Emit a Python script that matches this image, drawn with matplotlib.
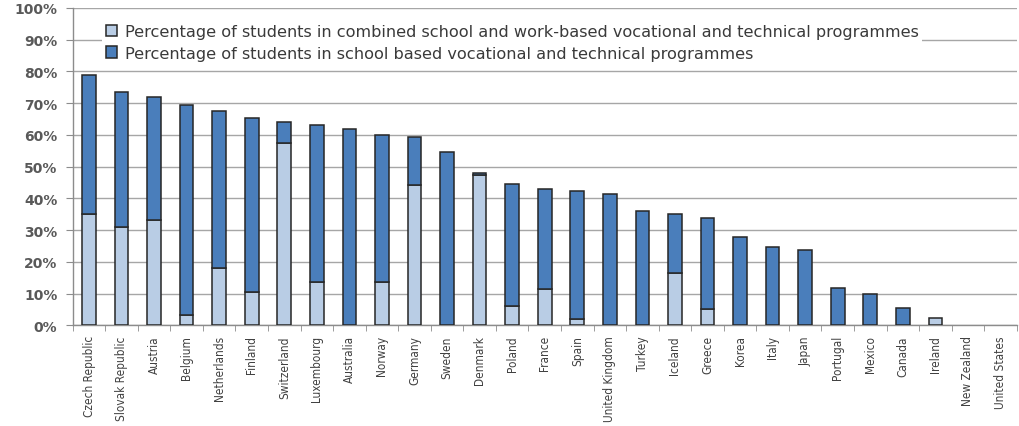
import matplotlib
matplotlib.use("Agg")
import matplotlib.pyplot as plt
import numpy as np
from matplotlib.ticker import FuncFormatter, MultipleLocator, FixedLocator
from matplotlib import font_manager as fm

countries = ["Czech Republic", "Slovak Republic", "Austria", "Belgium", "Netherlands",
             "Finland", "Switzerland", "Luxembourg", "Australia", "Norway", "Germany",
             "Sweden", "Denmark", "Poland", "France", "Spain", "United Kingdom", "Turkey",
             "Iceland", "Greece", "Korea", "Italy", "Japan", "Portugal", "Mexico",
             "Canada", "Ireland", "New Zealand", "United States"]
totals = [79, 73.6, 72, 69.5, 67.5, 65.5, 64, 63, 62, 60, 59.5, 54.5, 48, 44.5, 43,
          42.5, 41.5, 36.2, 35.2, 33.8, 28, 24.8, 23.8, 11.7, 9.8, 5.6, 2.5, 0, 0]
combined = [35, 31, 33.2, 3.2, 18.2, 10.6, 57.6, 13.6, 0, 13.6, 44.2, 0, 47.4, 6.2, 11.6,
            2.0, 0, 0, 16.5, 5.2, 0, 0, 0, 0, 0, 0, 2.5, 0, 0]
school = [t - c for t, c in zip(totals, combined)]

label_combined = "Percentage of students in combined school and work-based vocational and technical programmes"
label_school = "Percentage of students in school based vocational and technical programmes"

light = "#b9cde5"
dark = "#4a7ebb"
edge = "#262626"
gray = "#595959"

cond = None
for f in fm.fontManager.ttflist:
    fn = f.fname.replace("-", "")
    if "Condensed" in fn and "DejaVuSans" in fn and "Bold" not in fn and "Oblique" not in fn and "Mono" not in fn:
        cond = f.fname
        break
if cond:
    xfont = fm.FontProperties(fname=cond, size=8.5)
else:
    xfont = fm.FontProperties(family=["Liberation Sans", "DejaVu Sans"], size=8.5)

fig = plt.figure(figsize=(10.2, 4.27), dpi=100)
ax = fig.add_axes([0.0713, 0.2354, 0.9255, 0.7436])

x = np.arange(len(countries))
w = 0.42
lw_c = [1.1 if v > 0 else 0 for v in combined]
lw_s = [1.1 if v > 0 else 0 for v in school]
ax.bar(x, combined, w, color=light, edgecolor=edge, linewidth=lw_c, label=label_combined, zorder=3)
ax.bar(x, school, w, bottom=combined, color=dark, edgecolor=edge, linewidth=lw_s,
       label=label_school, zorder=3)

ax.set_xlim(-0.5, len(countries) - 0.5)
ax.set_ylim(0, 100)
ax.yaxis.set_major_locator(MultipleLocator(10))
ax.yaxis.set_major_formatter(FuncFormatter(lambda v, p: f"{int(round(v))}%"))
ax.grid(axis="y", color="#a6a6a6", linewidth=1.0, zorder=0)
ax.set_axisbelow(True)

for s in ["top", "right"]:
    ax.spines[s].set_visible(False)
for s in ["left", "bottom"]:
    ax.spines[s].set_color("#8c8c8c")
    ax.spines[s].set_linewidth(1.0)

ax.set_xticks(x)
ax.set_xticklabels(countries, rotation=90, color="#404040")
for t in ax.get_xticklabels():
    t.set_fontproperties(xfont)
ax.tick_params(axis="x", length=0, pad=7)
ax.xaxis.set_minor_locator(FixedLocator(np.arange(-0.5, len(countries), 1.0)))
ax.tick_params(axis="x", which="minor", length=4, color="#8c8c8c", direction="out")
ax.tick_params(axis="y", length=5, color="#8c8c8c", labelsize=10, labelcolor=gray, pad=6)
for t in ax.get_yticklabels():
    t.set_fontweight("bold")

leg = ax.legend(loc="upper left", bbox_to_anchor=(0.031, 0.962), borderaxespad=0,
                frameon=True, fancybox=False, edgecolor="none", facecolor="white",
                framealpha=1, fontsize=11.6, handlelength=0.7, handleheight=0.7,
                handletextpad=0.45, labelspacing=0.4, borderpad=0.25)
for t in leg.get_texts():
    t.set_color("#3a3a3a")
leg.set_zorder(5)

fig.savefig("out.png", dpi=100)
